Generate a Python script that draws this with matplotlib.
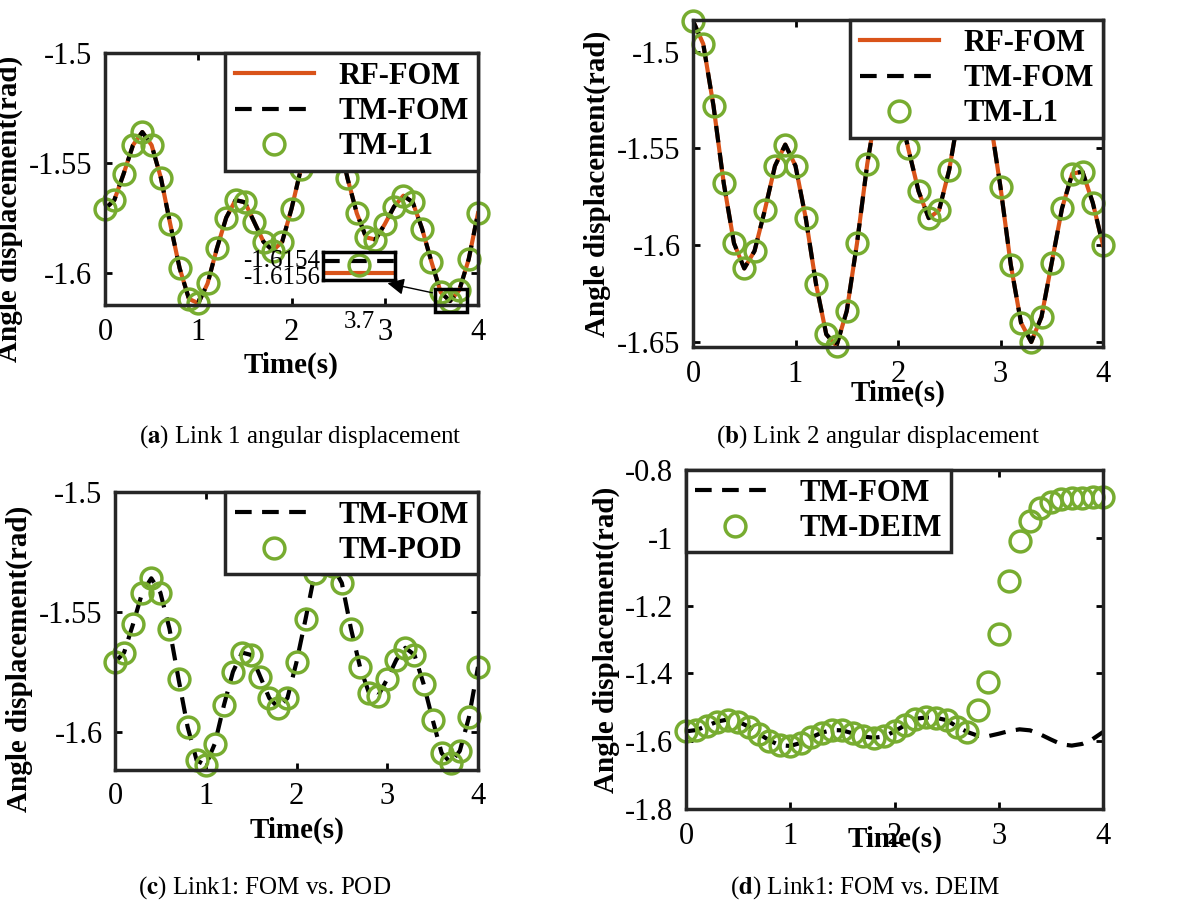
import numpy as np
import matplotlib.pyplot as plt
from matplotlib.patches import Rectangle

plt.rcParams['font.family'] = ['Liberation Serif', 'DejaVu Serif']
plt.rcParams['mathtext.fontset'] = 'stix'

t = np.round(np.arange(0, 4.01, 0.1), 1)

link1 = [-1.571, -1.567, -1.555, -1.542, -1.536, -1.542, -1.557, -1.578, -1.598, -1.612,
         -1.614, -1.605, -1.589, -1.575, -1.567, -1.568, -1.577, -1.586, -1.590, -1.586,
         -1.571, -1.553, -1.534, -1.530, -1.531, -1.538, -1.557, -1.573, -1.584, -1.585,
         -1.578, -1.570, -1.565, -1.568, -1.580, -1.595, -1.609, -1.613, -1.608, -1.594,
         -1.573]

link2 = [-1.484, -1.496, -1.528, -1.568, -1.599, -1.612, -1.603, -1.582, -1.559, -1.548,
         -1.559, -1.586, -1.620, -1.646, -1.652, -1.634, -1.599, -1.558, -1.526, -1.514,
         -1.527, -1.550, -1.572, -1.586, -1.582, -1.561, -1.530, -1.512, -1.515, -1.535,
         -1.570, -1.610, -1.640, -1.650, -1.637, -1.609, -1.581, -1.563, -1.562, -1.578,
         -1.600]

deim = link1[:28] + [-1.507, -1.424, -1.283, -1.127, -1.010, -0.951, -0.912, -0.893,
                     -0.886, -0.883, -0.882, -0.881, -0.880]

# zoomed inset of link 1 near t = 3.7
inset_t = [3.66, 3.74]
inset_rf = [-1.61558, -1.61558]
inset_tm = [-1.61543, -1.61543]

orange = '#D95319'
green = '#77AC30'
W, H = 1195, 916


def box(x0, y0, x1, y1):
    return [x0 / W, 1 - y1 / H, (x1 - x0) / W, (y1 - y0) / H]


def style(ax, ylim, yticks, ylabels):
    ax.set_xlim(0, 4)
    ax.set_ylim(*ylim)
    ax.set_xticks([0, 1, 2, 3, 4])
    ax.set_yticks(yticks)
    ax.set_yticklabels(ylabels)
    ax.tick_params(direction='in', top=True, right=True, labelsize=22, width=2, length=5, pad=9)
    for s in ax.spines.values():
        s.set_linewidth(2.5)
        s.set_color('#262626')
    ax.set_xlabel('Time(s)', fontsize=21, fontweight='bold')
    ax.set_ylabel('Angle displacement(rad)', fontsize=21, fontweight='bold')


def legend(ax, loc, anchor=None):
    lg = ax.legend(loc=loc, bbox_to_anchor=anchor, fancybox=False, framealpha=1, edgecolor='#262626',
                   prop={'weight': 'bold', 'size': 22}, borderaxespad=0.0, handlelength=2.6,
                   labelspacing=0.2, borderpad=0.3)
    lg.get_frame().set_linewidth(2.5)
    lg.set_zorder(10)


mk = dict(ls='none', marker='o', ms=15, mfc='none', mec=green, mew=2.5, clip_on=False)

fig = plt.figure(figsize=(W / 100, H / 100), dpi=100)

# (a)
ax = fig.add_axes(box(105, 53, 478, 305))
ax.plot(t, link1, color=orange, lw=3, label='RF-FOM')
ax.plot(t, link1, 'k--', lw=3, dashes=(4, 2.5), label='TM-FOM')
ax.plot(t, link1, label='TM-L1', **mk)
style(ax, (-1.6148, -1.5008), [-1.5, -1.55, -1.6], ['-1.5', '-1.55', '-1.6'])
ax.yaxis.label.set_position((0, 0.38))
legend(ax, 'upper right', (1.0, 1.0))
ax.add_patch(Rectangle((3.54, -1.6182), 0.34, 0.0106, fill=False, lw=2.5, ec='k',
                       zorder=5, clip_on=False))
ax.annotate('', xy=(3.0, -1.6046), xytext=(3.54, -1.6095),
            arrowprops=dict(arrowstyle='-|>', color='k', lw=1, mutation_scale=25),
            annotation_clip=False)
ins = fig.add_axes(box(323, 252, 395, 280))
ins.plot(inset_t, inset_rf, color=orange, lw=3)
ins.plot(inset_t, inset_tm, 'k--', lw=3, dashes=(4, 2.5))
ins.plot([3.7], [-1.61548], **mk)
ins.set_xlim(3.66, 3.74)
ins.set_ylim(-1.61566, -1.61532)
ins.set_xticks([3.7])
ins.set_yticks([-1.6154, -1.6156])
ins.set_yticklabels(['-1.6154', '-1.6156'])
ins.tick_params(direction='in', labelsize=18, length=0, pad=2)
ins.xaxis.set_tick_params(pad=22)
for s in ins.spines.values():
    s.set_linewidth(2.5)

# (b)
ax = fig.add_axes(box(693, 20, 1103, 347))
ax.plot(t, link2, color=orange, lw=3, label='RF-FOM')
ax.plot(t, link2, 'k--', lw=3, dashes=(4, 2.5), label='TM-FOM')
ax.plot(t, link2, label='TM-L1', **mk)
style(ax, (-1.6526, -1.4836), [-1.5, -1.55, -1.6, -1.65], ['-1.5', '-1.55', '-1.6', '-1.65'])
ax.xaxis.labelpad = -6
legend(ax, 'upper right', (1.0, 1.0))

# (c)
ax = fig.add_axes(box(115, 492, 478, 770))
ax.plot(t, link1, 'k--', lw=3, dashes=(4, 2.5), label='TM-FOM')
ax.plot(t, link1, label='TM-POD', **mk)
style(ax, (-1.616, -1.5), [-1.5, -1.55, -1.6], ['-1.5', '-1.55', '-1.6'])
ax.yaxis.label.set_position((0, 0.4))
legend(ax, 'upper right', (1.0, 1.0))

# (d)
ax = fig.add_axes(box(686, 470, 1103, 809))
ax.plot(t, link1, 'k--', lw=3, dashes=(4, 2.5), label='TM-FOM')
ax.plot(t, deim, label='TM-DEIM', **mk)
style(ax, (-1.8, -0.8), [-1.8, -1.6, -1.4, -1.2, -1.0, -0.8],
      ['-1.8', '-1.6', '-1.4', '-1.2', '-1', '-0.8'])
ax.xaxis.labelpad = -18
legend(ax, 'upper left', (0.0, 1.0))

caps = [(300, 437, 'a', ' Link 1 angular displacement'),
        (878, 437, 'b', ' Link 2 angular displacement'),
        (265, 888, 'c', ' Link1: FOM vs. POD'),
        (865, 888, 'd', ' Link1: FOM vs. DEIM')]
for cx, cy, letter, rest in caps:
    fig.text(cx / W, 1 - cy / H, r'(' + r'$\mathbf{' + letter + r'}$' + ')' + rest,
             ha='center', va='center', fontsize=18)

fig.savefig('out.png', dpi=100)
